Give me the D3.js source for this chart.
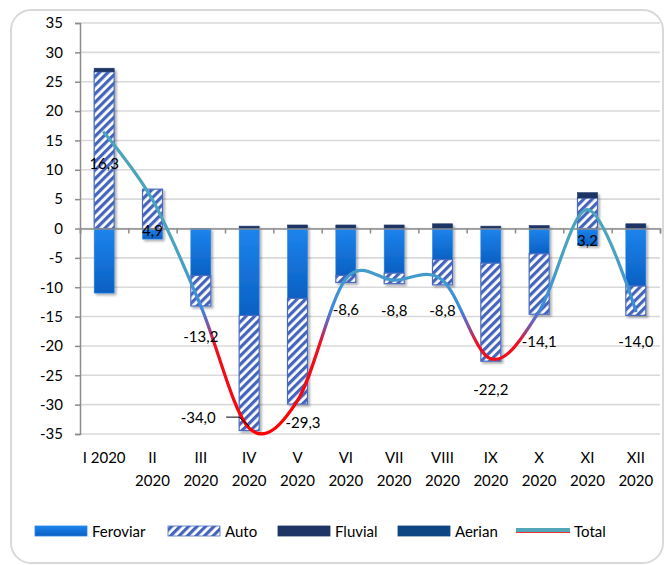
<!DOCTYPE html>
<html>
<head>
<meta charset="utf-8">
<script src="https://cdn.jsdelivr.net/npm/d3@7"></script>
<style>
  html, body { margin: 0; padding: 0; background: #fff; }
  svg { display: block; font-family: Lato, "Open Sans", sans-serif; }
</style>
</head>
<body>
<svg id="chart" width="667" height="565"></svg>
<script>
// ---- data ----
const categories = ["I 2020", "II\n2020", "III\n2020", "IV\n2020", "V\n2020", "VI\n2020",
                    "VII\n2020", "VIII\n2020", "IX\n2020", "X\n2020", "XI\n2020", "XII\n2020"];
const seriesNames = ["Feroviar", "Auto", "Fluvial", "Aerian"];
const feroviar = [-11.0, -1.8, -8.0, -14.8, -11.9, -8.0, -7.6, -5.3, -5.9, -4.3, -2.9, -9.8];
const auto     = [26.7, 6.7, -5.2, -19.6, -18.0, -1.2, -1.8, -4.3, -16.7, -10.3, 5.2, -5.0];
const fluvial  = [0.6, 0, 0, 0.4, 0.6, 0.6, 0.6, 0.8, 0.4, 0.5, 0.9, 0.8];
const aerian   = [0, 0, 0, 0, 0, 0, 0, 0, 0, 0, 0, 0];
const total    = [16.3, 4.9, -13.2, -34.0, -29.3, -8.6, -8.8, -8.8, -22.2, -14.1, 3.2, -14.0];
const yTicks   = [35, 30, 25, 20, 15, 10, 5, 0, -5, -10, -15, -20, -25, -30, -35];

// ---- setup ----
const svg = d3.select("#chart");
const defs = svg.append("defs");
const FONT = 15;

const x = d3.scaleBand().domain(d3.range(categories.length)).range([80, 660])
  .paddingInner(0.586).paddingOuter(0.293);
const xEdge = d3.scaleLinear().domain([0, categories.length]).range([80, 660]);
const y = d3.scaleLinear().domain([-35, 35]).range([434, 23]);

// chart border
svg.append("rect").attr("x", 11).attr("y", 10).attr("width", 652).attr("height", 553)
  .attr("rx", 20).attr("ry", 20).attr("fill", "#fff").attr("stroke", "#d9d9d9").attr("stroke-width", 2);

// gradients / patterns
const gFer = defs.append("linearGradient").attr("id", "gFer").attr("x1", 0).attr("x2", 0).attr("y1", 0).attr("y2", 1);
gFer.append("stop").attr("offset", "0%").attr("stop-color", "#1d84ee");
gFer.append("stop").attr("offset", "100%").attr("stop-color", "#0b60c2");

const pat = defs.append("pattern").attr("id", "hatch").attr("patternUnits", "userSpaceOnUse")
  .attr("width", 6).attr("height", 6).attr("patternTransform", "rotate(45)");
pat.append("rect").attr("width", 6).attr("height", 6).attr("fill", "#fff");
pat.append("rect").attr("width", 3.2).attr("height", 6).attr("fill", "#4565bb");

const shadow = defs.append("filter").attr("id", "shadow").attr("x", "-20%").attr("y", "-20%").attr("width", "150%").attr("height", "150%");
shadow.append("feDropShadow").attr("dx", 2).attr("dy", 2).attr("stdDeviation", 1.2)
  .attr("flood-color", "#000").attr("flood-opacity", 0.3);

const lineStops = [[35, "#4ea6b4"], [-4, "#4aa3c0"], [-9, "#4198cf"], [-13.5, "#3a8ade"],
                   [-16.5, "#7a55a8"], [-19.5, "#ee1020"], [-35, "#ff0000"]];
const gLine = defs.append("linearGradient").attr("id", "gLine").attr("gradientUnits", "userSpaceOnUse")
  .attr("x1", 0).attr("x2", 0).attr("y1", y(35)).attr("y2", y(-35));
lineStops.forEach(([v, c]) => gLine.append("stop").attr("offset", (35 - v) / 70).attr("stop-color", c));

const fills = { Feroviar: "url(#gFer)", Auto: "url(#hatch)", Fluvial: "#1f3565", Aerian: "#0e4583" };
const strokes = { Feroviar: "#2a86e6", Auto: "#4a6cc2", Fluvial: "#1f3565", Aerian: "#0e4583" };

// gridlines
svg.append("g").selectAll("line").data(yTicks).join("line")
  .attr("x1", 80).attr("x2", 660).attr("y1", d => y(d)).attr("y2", d => y(d))
  .attr("stroke", "#d9d9d9").attr("stroke-width", 1.6);

// y axis
const yAxis = svg.append("g").attr("transform", "translate(80,0)")
  .call(d3.axisLeft(y).tickValues(yTicks).tickSize(5).tickPadding(12).tickFormat(d => String(d)));
yAxis.select(".domain").attr("stroke", "#8c8c8c").attr("stroke-width", 1.5);
yAxis.selectAll(".tick line").attr("stroke", "#8c8c8c").attr("stroke-width", 1.5);
yAxis.selectAll("text").attr("font-size", FONT).attr("font-family", "Lato, sans-serif").attr("fill", "#000");

// bars
const rows = categories.map((c, i) => ({ i, Feroviar: feroviar[i], Auto: auto[i], Fluvial: fluvial[i], Aerian: aerian[i] }));
const stacked = d3.stack().keys(seriesNames).offset(d3.stackOffsetDiverging)(rows);
const barG = svg.append("g").attr("filter", "url(#shadow)");
stacked.forEach(s => {
  barG.append("g").selectAll("rect").data(s.filter(d => d[1] !== d[0])).join("rect")
    .attr("x", d => x(d.data.i))
    .attr("width", x.bandwidth())
    .attr("y", d => y(Math.max(d[0], d[1])))
    .attr("height", d => Math.abs(y(d[0]) - y(d[1])))
    .attr("fill", fills[s.key])
    .attr("stroke", strokes[s.key])
    .attr("stroke-width", s.key === "Auto" ? 1.2 : 0.6);
});

// x axis at zero
const xAxis = svg.append("g").attr("transform", `translate(0,${y(0)})`)
  .call(d3.axisBottom(xEdge).tickValues(d3.range(categories.length + 1)).tickSize(5).tickFormat(""));
xAxis.select(".domain").attr("stroke", "#8c8c8c").attr("stroke-width", 1.5);
xAxis.selectAll(".tick line").attr("stroke", "#8c8c8c").attr("stroke-width", 1.5);

// category labels
const catG = svg.append("g").attr("font-size", FONT).attr("text-anchor", "middle").attr("fill", "#000");
categories.forEach((c, i) => {
  const t = catG.append("text").attr("x", x(i) + x.bandwidth() / 2).attr("y", 463);
  c.split("\n").forEach((ln, k) => t.append("tspan").attr("x", x(i) + x.bandwidth() / 2).attr("dy", k ? 23 : 0).text(ln));
});

// total line
const pts = total.map((v, i) => [x(i) + x.bandwidth() / 2, y(v)]);
svg.append("path").attr("d", d3.line().curve(d3.curveCardinal.tension(0))(pts))
  .attr("fill", "none").attr("stroke", "url(#gLine)").attr("stroke-width", 3.2)
  .attr("stroke-linecap", "round");

// data labels
const fmt = v => v.toFixed(1).replace(".", ",");
const labelShift = { 3: [-51, -41], 4: [5.5, -9] };
const lblG = svg.append("g").attr("font-size", FONT).attr("text-anchor", "middle").attr("fill", "#000");
total.forEach((v, i) => {
  const [px, py] = pts[i];
  const sh = labelShift[i] || [0, 0];
  lblG.append("text").attr("x", px + sh[0]).attr("y", py + 36 + sh[1]).text(fmt(v));
});
// leader line for IV
{
  const [px, py] = pts[3];
  svg.append("path").attr("d", `M${px - 23},${py - 11} L${px - 10},${py - 11} L${px},${py - 2}`)
    .attr("fill", "none").attr("stroke", "#000").attr("stroke-width", 1);
}

// legend
const legend = [
  { name: "Feroviar", x: 35, fill: "url(#gFer)", stroke: "#2a86e6" },
  { name: "Auto", x: 168, fill: "url(#hatch)", stroke: "#4a6cc2" },
  { name: "Fluvial", x: 278, fill: "#1f3565", stroke: "#1f3565" },
  { name: "Aerian", x: 398, fill: "#0e4583", stroke: "#0e4583" },
  { name: "Total", x: 516, line: true }
];
const legG = svg.append("g").attr("font-size", FONT).attr("fill", "#000");
legend.forEach(d => {
  if (d.line) {
    legG.append("rect").attr("x", d.x).attr("y", 532).attr("width", 54).attr("height", 1).attr("fill", "#ee3030");
    legG.append("rect").attr("x", d.x).attr("y", 528).attr("width", 54).attr("height", 4).attr("fill", "#52a8b8");
  } else {
    legG.append("rect").attr("x", d.x).attr("y", 526).attr("width", 52).attr("height", 10)
      .attr("fill", d.fill).attr("stroke", d.stroke).attr("stroke-width", 0.8);
  }
  legG.append("text").attr("x", d.x + (d.line ? 58 : 57)).attr("y", 536.5).text(d.name);
});
</script>
</body>
</html>
